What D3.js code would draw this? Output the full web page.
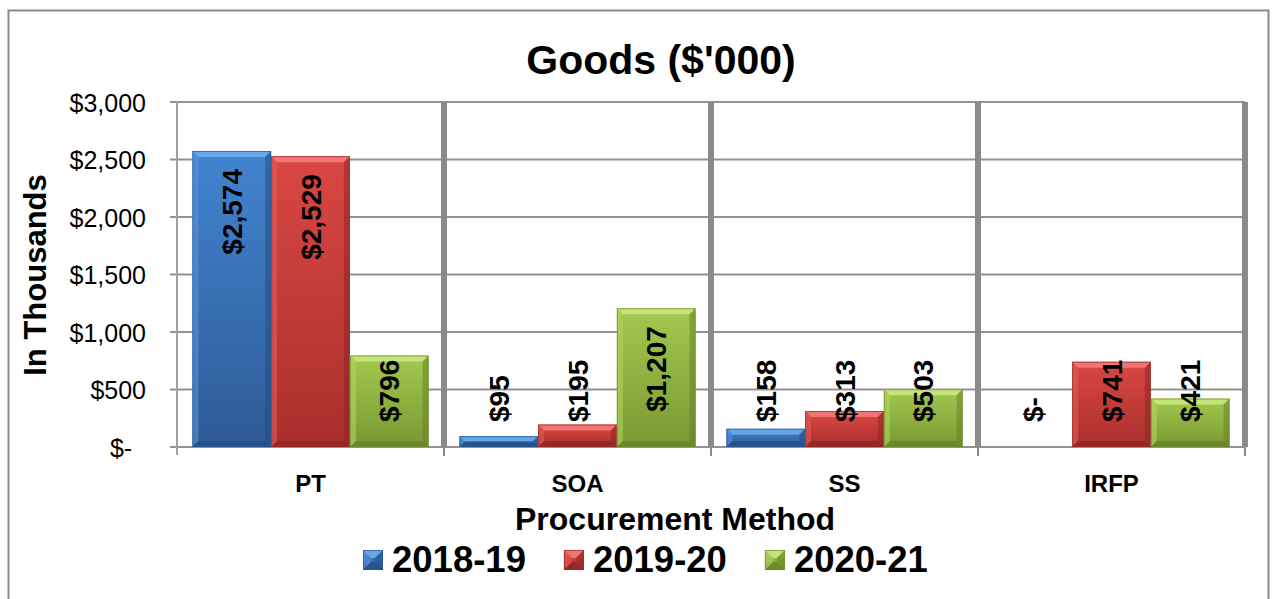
<!DOCTYPE html>
<html>
<head>
<meta charset="utf-8">
<script src="https://cdn.jsdelivr.net/npm/d3@7"></script>
<style>
  html, body { margin: 0; padding: 0; background: #ffffff; }
  svg { display: block; font-family: "Liberation Sans", Arial, sans-serif; }
</style>
</head>
<body>
<svg id="chart" width="1272" height="599"></svg>
<script>
// ---------- data ----------
const categories = ["PT", "SOA", "SS", "IRFP"];
const seriesNames = ["2018-19", "2019-20", "2020-21"];
const values2018_19 = [2574, 95, 158, 0];
const values2019_20 = [2529, 195, 313, 741];
const values2020_21 = [796, 1207, 503, 421];
const yTickValues = [0, 500, 1000, 1500, 2000, 2500, 3000];
const yTickLabels = ["$-\u00a0\u00a0", "$500", "$1,000", "$1,500", "$2,000", "$2,500", "$3,000"];
const titleText = "Goods ($'000)";
const xTitleText = "Procurement Method";
const yTitleText = "In Thousands";

const seriesValues = [values2018_19, values2019_20, values2020_21];
const palette = [
  { top: "#6aa6ea", body1: "#4284d0", body2: "#2d5b96", side: "#5592dc", bottom: "#234a7d", stroke: "#2a5a94" },
  { top: "#f07a76", body1: "#da4744", body2: "#a92f2c", side: "#e15c59", bottom: "#862321", stroke: "#9a2c29" },
  { top: "#c4e67a", body1: "#a3c94f", body2: "#799831", side: "#b1d461", bottom: "#627d27", stroke: "#6f8c2e" }
];

// ---------- layout ----------
const svg = d3.select("#chart");
const plotLeft = 177, plotRight = 1245, plotTop = 102, plotBottom = 447;
const fontFam = '"Liberation Sans", Arial, sans-serif';

svg.append("rect").attr("x", 0).attr("y", 0).attr("width", 1272).attr("height", 599).attr("fill", "#fff");
svg.append("rect").attr("x", 8.5).attr("y", 10.5).attr("width", 1260).attr("height", 620)
  .attr("fill", "none").attr("stroke", "#8c8c8c").attr("stroke-width", 2);

const x0 = d3.scaleBand().domain(categories).range([plotLeft, plotRight]).paddingInner(0).paddingOuter(0);
const x1 = d3.scaleBand().domain(seriesNames).range([0, x0.bandwidth()]).paddingInner(0).paddingOuter(0.196);
const y = d3.scaleLinear().domain([0, 3000]).range([plotBottom, plotTop]);

// gradients
const defs = svg.append("defs");
palette.forEach((p, i) => {
  const g = defs.append("linearGradient").attr("id", "grad" + i).attr("x1", 0).attr("y1", 0).attr("x2", 0).attr("y2", 1);
  g.append("stop").attr("offset", "0%").attr("stop-color", p.body1);
  g.append("stop").attr("offset", "100%").attr("stop-color", p.body2);
  const gl = defs.append("linearGradient").attr("id", "legGrad" + i).attr("x1", 0).attr("y1", 0).attr("x2", 0).attr("y2", 1);
  gl.append("stop").attr("offset", "0%").attr("stop-color", p.body1);
  gl.append("stop").attr("offset", "100%").attr("stop-color", p.body2);
});

// horizontal gridlines + y axis labels
const yAxis = d3.axisLeft(y).tickValues(yTickValues)
  .tickFormat((d, i) => yTickLabels[i])
  .tickSize(0).tickPadding(0);
const yAxisG = svg.append("g").attr("transform", `translate(${plotLeft},0)`).call(yAxis);
yAxisG.select(".domain").remove();
yAxisG.selectAll("text")
  .attr("x", 146 - plotLeft).attr("dy", "0.36em")
  .attr("font-size", 25).attr("font-family", fontFam).attr("fill", "#000")
  .style("white-space", "pre");

svg.append("g").selectAll("line").data(yTickValues).join("line")
  .attr("x1", 170).attr("x2", plotRight)
  .attr("y1", d => y(d)).attr("y2", d => y(d))
  .attr("stroke", "#929292").attr("stroke-width", 2);

// left axis line
svg.append("line").attr("x1", plotLeft).attr("x2", plotLeft).attr("y1", plotTop).attr("y2", 455)
  .attr("stroke", "#a0a0a0").attr("stroke-width", 2);

// category separators (thick) and ticks below
const boundaries = categories.map(c => x0(c) + x0.bandwidth());
svg.append("g").selectAll("line").data(boundaries).join("line")
  .attr("x1", d => d).attr("x2", d => d).attr("y1", plotTop).attr("y2", plotBottom)
  .attr("stroke", "#8a8a8a").attr("stroke-width", 6);
svg.append("g").selectAll("line").data(boundaries).join("line")
  .attr("x1", d => d).attr("x2", d => d).attr("y1", plotBottom).attr("y2", 456)
  .attr("stroke", "#8a8a8a").attr("stroke-width", 2);

// bevel bar drawing
function bevelBar(g, x, yTop, w, h, p, gi, b) {
  const bb = Math.min(b, w / 2, h / 2);
  const yb = yTop + h;
  g.append("rect").attr("x", x).attr("y", yTop).attr("width", w).attr("height", h).attr("fill", `url(#${gi})`);
  if (h <= 0) return;
  g.append("polygon").attr("points", [[x, yTop], [x + w, yTop], [x + w - bb, yTop + bb], [x + bb, yTop + bb]].join(" "))
    .attr("fill", p.top).attr("opacity", 0.95);
  g.append("polygon").attr("points", [[x, yTop], [x + bb, yTop + bb], [x + bb, yb - bb], [x, yb]].join(" "))
    .attr("fill", p.side).attr("opacity", 0.6);
  g.append("polygon").attr("points", [[x + w, yTop], [x + w - bb, yTop + bb], [x + w - bb, yb - bb], [x + w, yb]].join(" "))
    .attr("fill", p.bottom).attr("opacity", 0.5);
  g.append("polygon").attr("points", [[x, yb], [x + bb, yb - bb], [x + w - bb, yb - bb], [x + w, yb]].join(" "))
    .attr("fill", p.bottom).attr("opacity", 0.65);
  g.append("rect").attr("x", x + 0.5).attr("y", yTop + 0.5).attr("width", Math.max(0, w - 1)).attr("height", Math.max(0, h - 1))
    .attr("fill", "none").attr("stroke", p.stroke).attr("stroke-width", 1).attr("opacity", 0.7);
}

const barsG = svg.append("g");
seriesNames.forEach((s, si) => {
  categories.forEach((c, ci) => {
    const v = seriesValues[si][ci];
    const bx = x0(c) + x1(s);
    const yt = y(v);
    bevelBar(barsG, bx, yt, x1.bandwidth(), plotBottom - yt, palette[si], "grad" + si, 6);
  });
});

// data labels
const fmt = v => v === 0 ? "$-" : "$" + d3.format(",")(v);
const labelsG = svg.append("g");
const labelBottomLimit = 422;
seriesNames.forEach((s, si) => {
  categories.forEach((c, ci) => {
    const v = seriesValues[si][ci];
    const cx = x0(c) + x1(s) + x1.bandwidth() / 2;
    const t = labelsG.append("text")
      .attr("font-size", 28).attr("font-weight", "bold").attr("font-family", fontFam)
      .attr("fill", "#000").attr("dy", "0.36em")
      .text(fmt(v));
    const len = t.node().getComputedTextLength();
    const topPos = y(v) + 18;
    if (topPos + len <= labelBottomLimit) {
      t.attr("text-anchor", "end").attr("transform", `translate(${cx},${topPos}) rotate(-90)`);
    } else {
      t.attr("text-anchor", "start").attr("transform", `translate(${cx},${labelBottomLimit}) rotate(-90)`);
    }
  });
});

// category labels
svg.append("g").selectAll("text").data(categories).join("text")
  .attr("x", d => x0(d) + x0.bandwidth() / 2).attr("y", 492)
  .attr("text-anchor", "middle").attr("font-size", 24).attr("font-weight", "bold")
  .attr("font-family", fontFam).attr("fill", "#000").text(d => d);

// titles
svg.append("text").attr("x", 661).attr("y", 74).attr("text-anchor", "middle")
  .attr("font-size", 41).attr("font-weight", "bold").attr("font-family", fontFam).text(titleText);
svg.append("text").attr("x", 675).attr("y", 530).attr("text-anchor", "middle")
  .attr("font-size", 32).attr("font-weight", "bold").attr("font-family", fontFam).text(xTitleText);
svg.append("text").attr("transform", "translate(46,275) rotate(-90)").attr("text-anchor", "middle")
  .attr("font-size", 31).attr("font-weight", "bold").attr("font-family", fontFam).text(yTitleText);

// legend
const legendG = svg.append("g");
let lx = 363;
seriesNames.forEach((s, si) => {
  const ig = legendG.append("g");
  bevelBar(ig, lx, 550, 20, 20, palette[si], "legGrad" + si, 8);
  const t = ig.append("text").attr("x", lx + 29).attr("y", 572)
    .attr("font-size", 36.5).attr("font-weight", "bold").attr("font-family", fontFam).text(s);
  lx += 29 + t.node().getComputedTextLength() + 38;
});
</script>
</body>
</html>
